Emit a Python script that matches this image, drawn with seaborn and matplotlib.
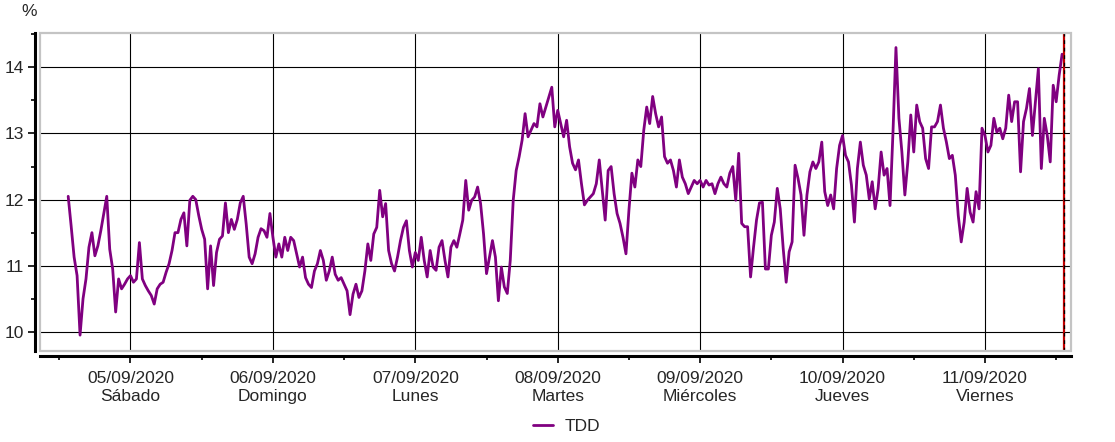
import pandas as pd
import matplotlib
matplotlib.use("Agg")
import matplotlib.pyplot as plt
import matplotlib.dates as mdates
from matplotlib.patches import Rectangle
import seaborn as sns

# TDD (%), one value every 30 minutes, starting 04/09/2020 13:30
tdd_0409 = [12.05, 11.6, 11.13, 10.85, 9.95, 10.5, 10.8, 11.28, 11.5, 11.15, 11.3,
            11.53, 11.79, 12.05, 11.25, 10.95, 10.3, 10.8, 10.65, 10.72, 10.8]
tdd_0509 = [10.85, 10.75, 10.8, 11.35, 10.8, 10.7, 10.62, 10.55, 10.42, 10.65, 10.72, 10.75,
            10.9, 11.03, 11.23, 11.5, 11.5, 11.7, 11.8, 11.3, 11.99, 12.05, 12.0, 11.76,
            11.55, 11.4, 10.65, 11.3, 10.7, 11.2, 11.4, 11.45, 11.95, 11.5, 11.7, 11.55,
            11.7, 11.95, 12.05, 11.63, 11.13, 11.03, 11.18, 11.43, 11.56, 11.53, 11.43, 11.79]
tdd_0609 = [11.43, 11.13, 11.33, 11.13, 11.43, 11.23, 11.43, 11.38, 11.18, 10.98, 11.13, 10.82,
            10.72, 10.67, 10.92, 11.03, 11.23, 11.08, 10.78, 10.92, 11.13, 10.87, 10.78, 10.82,
            10.72, 10.62, 10.26, 10.57, 10.72, 10.52, 10.62, 10.92, 11.33, 11.08, 11.48, 11.58,
            12.14, 11.74, 11.94, 11.23, 11.03, 10.92, 11.13, 11.38, 11.58, 11.68, 11.23, 10.98]
tdd_0709 = [11.2, 11.08, 11.43, 11.08, 10.83, 11.23, 10.98, 10.93, 11.28, 11.38, 11.08, 10.83,
            11.28, 11.38, 11.28, 11.48, 11.69, 12.29, 11.84, 11.99, 12.04, 12.19, 11.94, 11.48,
            10.88, 11.13, 11.38, 11.13, 10.47, 10.98, 10.68, 10.58, 11.08, 11.99, 12.44, 12.65,
            12.9, 13.3, 12.95, 13.05, 13.15, 13.1, 13.45, 13.25, 13.4, 13.55, 13.7, 13.1]
tdd_0809 = [13.35, 13.15, 12.95, 13.2, 12.8, 12.55, 12.45, 12.6, 12.24, 11.92, 11.99, 12.04,
            12.09, 12.24, 12.6, 12.14, 11.69, 12.44, 12.5, 12.09, 11.79, 11.64, 11.43, 11.18,
            11.84, 12.4, 12.19, 12.6, 12.5, 13.05, 13.4, 13.15, 13.56, 13.3, 13.1, 13.25,
            12.65, 12.55, 12.6, 12.44, 12.19, 12.6, 12.34, 12.24, 12.09, 12.19, 12.29, 12.24]
tdd_0909 = [12.29, 12.19, 12.29, 12.22, 12.24, 12.09, 12.24, 12.34, 12.24, 12.19, 12.4, 12.5,
            11.99, 12.7, 11.64, 11.59, 11.59, 10.83, 11.28, 11.69, 11.95, 11.96, 10.95, 10.95,
            11.46, 11.66, 12.17, 11.86, 11.26, 10.75, 11.21, 11.36, 12.52, 12.32, 12.07, 11.46,
            12.07, 12.42, 12.57, 12.47, 12.57, 12.87, 12.12, 11.91, 12.07, 11.86, 12.47, 12.82]
tdd_1009 = [12.97, 12.67, 12.57, 12.22, 11.66, 12.47, 12.87, 12.52, 12.37, 12.01, 12.27, 11.86,
            12.17, 12.72, 12.37, 12.47, 11.91, 13.02, 14.3, 13.23, 12.72, 12.07, 12.57, 13.28,
            12.72, 13.43, 13.18, 13.08, 12.62, 12.47, 13.1, 13.1, 13.18, 13.43, 13.08, 12.87,
            12.62, 12.67, 12.37, 11.76, 11.36, 11.66, 12.17, 11.81, 11.66, 12.12, 11.86, 13.08]
tdd_1109 = [12.97, 12.72, 12.82, 13.23, 13.02, 13.08, 12.92, 13.08, 13.58, 13.18, 13.48, 13.48,
            12.42, 13.18, 13.38, 13.68, 12.97, 13.48, 13.98, 12.47, 13.23, 12.97, 12.57, 13.73,
            13.48, 13.88, 14.2]

start_time = "2020-09-04 13:30"
cut_time = "2020-09-11 13:20"
x_range = ("2020-09-04 08:45", "2020-09-11 14:30")
y_major = [10, 11, 12, 13, 14]
y_minor = [10.5, 11.5, 12.5, 13.5, 14.5]
dias = ["Lunes", "Martes", "Miércoles", "Jueves", "Viernes", "Sábado", "Domingo"]

values = tdd_0409 + tdd_0509 + tdd_0609 + tdd_0709 + tdd_0809 + tdd_0909 + tdd_1009 + tdd_1109
df = pd.DataFrame({
    "fecha": pd.date_range(start_time, periods=len(values), freq="30min"),
    "TDD": values,
})

sns.set_style("white")
plt.rcParams["font.family"] = ["Liberation Sans", "DejaVu Sans"]

fig = plt.figure(figsize=(11.15, 4.42), dpi=100)
ax = fig.add_axes([40 / 1115, 1 - 351 / 442, 1031 / 1115, 318 / 442])

sns.lineplot(data=df, x="fecha", y="TDD", color="#800080", lw=2.0, label="TDD", ax=ax, zorder=3)

# vertical cut line (red with black dashes)
ax.axvline(pd.Timestamp(cut_time), color="#c00000", lw=1.6, zorder=4)
ax.axvline(pd.Timestamp(cut_time), color="black", lw=0.9, ls=(0, (3, 3)), zorder=5)

ax.set_xlim(pd.Timestamp(x_range[0]), pd.Timestamp(x_range[1]))
ax.set_ylim(9.71, 14.52)
ax.set_yticks(y_major)
ax.set_yticks(y_minor, minor=True)

ax.xaxis.set_major_locator(mdates.DayLocator())
ax.xaxis.set_minor_locator(mdates.HourLocator(byhour=[12]))


def fmt_fecha(x, pos=None):
    d = mdates.num2date(x)
    return d.strftime("%d/%m/%Y") + "\n" + dias[d.weekday()]


ax.xaxis.set_major_formatter(plt.FuncFormatter(fmt_fecha))
ax.set_xlabel("")
ax.set_ylabel("")

ax.grid(True, which="major", color="black", lw=0.8)
for s in ["top", "right"]:
    ax.spines[s].set_visible(False)
for s in ["left", "bottom"]:
    ax.spines[s].set_visible(True)
    ax.spines[s].set_color("black")
    ax.spines[s].set_linewidth(2.2)
    ax.spines[s].set_position(("outward", 3.3))
ax.add_patch(Rectangle((0, 0), 1, 1, transform=ax.transAxes, fill=False,
                       edgecolor="#c4c4c4", lw=1.6, clip_on=False, zorder=6))

ax.tick_params(axis="both", which="major", length=5, width=1.2, color="black",
               labelsize=12.5, pad=3, left=True, bottom=True)
ax.tick_params(axis="x", which="major", pad=6)
ax.tick_params(axis="both", which="minor", length=3, width=1.2, color="black",
               left=True, bottom=True)
fig.canvas.draw()
for lab in ax.get_xticklabels():
    lab.set_ha("center")
    lab.set_linespacing(1.3)

fig.text(29 / 1115, 1 - 12 / 442, "%", ha="center", va="center", fontsize=12.5)

ax.get_legend().remove()
fig.legend(*ax.get_legend_handles_labels(), loc="center", bbox_to_anchor=(0.508, 0.036),
           frameon=False, fontsize=12.5, handlelength=1.2, handletextpad=0.65)

fig.savefig("out.png", dpi=100)
